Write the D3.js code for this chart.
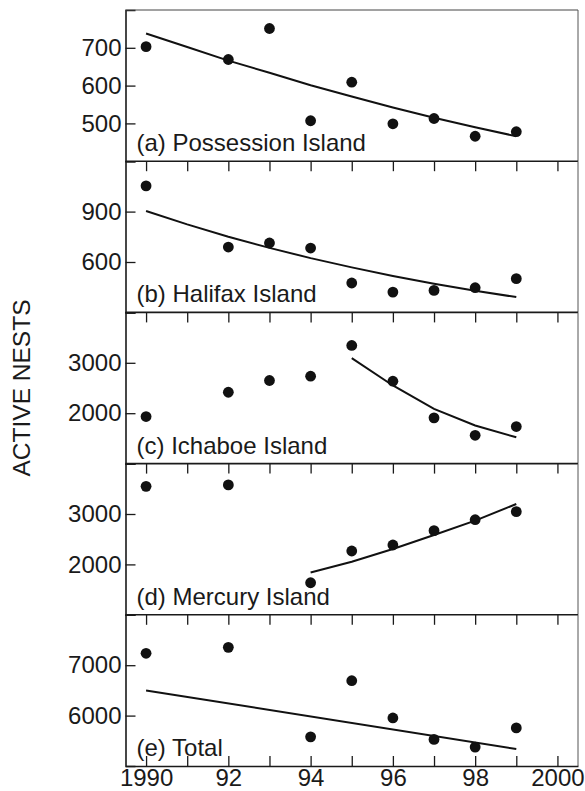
<!DOCTYPE html>
<html>
<head>
    <title>Active nests</title>
    <script src="https://d3js.org/d3.v7.min.js"></script>
    <style>
        body { margin: 0; background: #fff; }
        text { font-family: "Liberation Sans", Arial, sans-serif; fill: #1a1a1a; }
    </style>
</head>
<body>
    <div id="chart"></div>
    <script>
        // datos
        var years = [1990, 1992, 1993, 1994, 1995, 1996, 1997, 1998, 1999];
        var panelNames = ["(a) Possession Island", "(b) Halifax Island", "(c) Ichaboe Island", "(d) Mercury Island", "(e) Total"];

        var possessionNests = [703, 669, 751, 507, 609, 499, 513, 466, 478];
        var halifaxNests = [1053, 689, 713, 683, 475, 421, 431, 447, 501];
        var ichaboeNests = [1934, 2416, 2649, 2734, 3344, 2635, 1908, 1562, 1735];
        var mercuryNests = [3549, 3577, null, 1636, 2266, 2385, 2669, 2887, 3046];
        var totalNests = [7236, 7355, null, 5578, 6692, 5953, 5527, 5375, 5756];

        // tendencias
        var possessionTrendYears = [1990, 1991, 1992, 1993, 1994, 1995, 1996, 1997, 1998, 1999];
        var possessionTrend = [738, 702, 666, 634, 601, 571, 542, 515, 490, 466];
        var halifaxTrendYears = [1990, 1991, 1992, 1993, 1994, 1995, 1996, 1997, 1998, 1999];
        var halifaxTrend = [904, 824, 750, 684, 623, 568, 517, 471, 429, 391];
        var ichaboeTrendYears = [1995, 1996, 1997, 1998, 1999];
        var ichaboeTrend = [3092, 2550, 2087, 1755, 1522];
        var mercuryTrendYears = [1994, 1995, 1996, 1997, 1998, 1999];
        var mercuryTrend = [1840, 2052, 2305, 2583, 2868, 3199];
        var totalTrendYears = [1990, 1999];
        var totalTrend = [6500, 5336];

        var yDomains = [[400, 800], [300, 1200], [1000, 4000], [1000, 4000], [5000, 8000]];
        var yTicks = [[500, 600, 700], [600, 900], [2000, 3000], [2000, 3000], [6000, 7000]];

        var xTickYears = [1990, 1991, 1992, 1993, 1994, 1995, 1996, 1997, 1998, 1999, 2000];
        var xLabelYears = [1990, 1992, 1994, 1996, 1998, 2000];
        var xLabelText = ["1990", "92", "94", "96", "98", "2000"];

        var series = [possessionNests, halifaxNests, ichaboeNests, mercuryNests, totalNests];
        var trendYears = [possessionTrendYears, halifaxTrendYears, ichaboeTrendYears, mercuryTrendYears, totalTrendYears];
        var trends = [possessionTrend, halifaxTrend, ichaboeTrend, mercuryTrend, totalTrend];

        // configuracion
        var width = 585, height = 791;
        var left = 125.5, right = 578, topY = 10, panelH = 151.2;
        var fontSize = 24;

        var svg = d3.select("#chart").append("svg")
            .attr("width", width)
            .attr("height", height);

        var x = d3.scaleLinear().domain([1989.5, 2000.5]).range([left, right]);

        panelNames.forEach(function (name, i) {
            var y0 = topY + i * panelH, y1 = y0 + panelH;
            var y = d3.scaleLinear().domain(yDomains[i]).range([y1, y0]);
            var g = svg.append("g");

            // eje y
            var ay = g.append("g")
                .attr("transform", "translate(" + left + ",0)")
                .call(d3.axisLeft(y).tickValues(yTicks[i]).tickFormat(d3.format("d"))
                    .tickSizeInner(-10).tickSizeOuter(-10).tickPadding(4));
            ay.select(".domain").attr("stroke", "#1a1a1a").attr("stroke-width", 1.6);
            ay.selectAll(".tick line").attr("stroke", "#1a1a1a").attr("stroke-width", 1.3);
            ay.selectAll(".tick text").attr("font-size", fontSize).style("font-family", "Liberation Sans, Arial, sans-serif").attr("fill", "#1a1a1a");

            // ticks superiores (hacia abajo)
            if (i > 0) {
                var at = g.append("g")
                    .attr("transform", "translate(0," + y0 + ")")
                    .call(d3.axisBottom(x).tickValues(xTickYears).tickSize(10).tickFormat(""));
                at.select(".domain").remove();
                at.selectAll(".tick line").attr("stroke", "#1a1a1a").attr("stroke-width", 1.3);
            }

            // borde
            g.append("line").attr("x1", left).attr("x2", right).attr("y1", y0).attr("y2", y0)
                .attr("stroke", i === 0 ? "#444" : "#1a1a1a").attr("stroke-width", i === 0 ? 1 : 1.6);
            g.append("line").attr("x1", right).attr("x2", right).attr("y1", y0).attr("y2", y1)
                .attr("stroke", "#555").attr("stroke-width", 1);

            // etiqueta del panel
            g.append("text")
                .attr("x", left + 11)
                .attr("y", y1 - 10)
                .attr("font-size", fontSize)
                .text(name);

            // tendencia
            var line = d3.line()
                .x(function (d) { return x(d[0]); })
                .y(function (d) { return y(d[1]); });
            g.append("path")
                .datum(d3.zip(trendYears[i], trends[i]))
                .attr("d", line)
                .attr("fill", "none")
                .attr("stroke", "#111")
                .attr("stroke-width", 2);

            // puntos
            g.selectAll("circle")
                .data(d3.zip(years, series[i]).filter(function (d) { return d[1] != null; }))
                .enter().append("circle")
                .attr("cx", function (d) { return x(d[0]); })
                .attr("cy", function (d) { return y(d[1]); })
                .attr("r", 5.4)
                .attr("fill", "#111");
        });

        // eje x inferior
        var bottomY = topY + 5 * panelH;
        var ab = svg.append("g")
            .attr("transform", "translate(0," + bottomY + ")")
            .call(d3.axisBottom(x).tickValues(xTickYears).tickSizeInner(-10).tickSizeOuter(0).tickPadding(3)
                .tickFormat(function (d) {
                    var k = xLabelYears.indexOf(d);
                    return k < 0 ? "" : xLabelText[k];
                }));
        ab.select(".domain").attr("stroke", "#1a1a1a").attr("stroke-width", 1.6);
        ab.selectAll(".tick line").attr("stroke", "#1a1a1a").attr("stroke-width", 1.3);
        ab.selectAll(".tick text").attr("font-size", fontSize).style("font-family", "Liberation Sans, Arial, sans-serif").attr("fill", "#1a1a1a");

        // titulo eje y
        svg.append("text")
            .attr("transform", "translate(30," + (topY + 2.5 * panelH) + ") rotate(-90)")
            .attr("text-anchor", "middle")
            .attr("font-size", 24.5)
            .text("ACTIVE NESTS");
    </script>
</body>
</html>
